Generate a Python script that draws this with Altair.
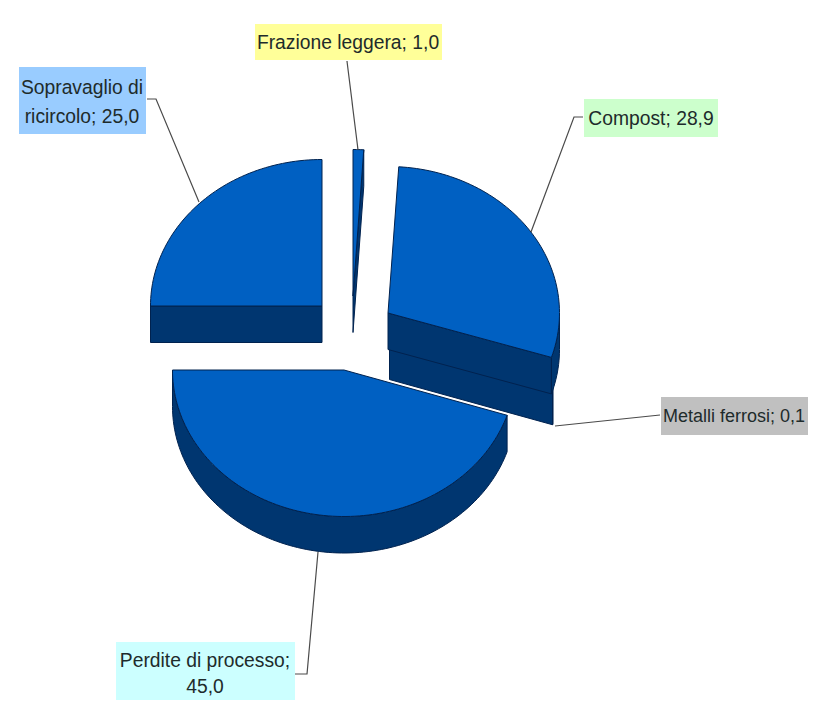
import math
import altair as alt
import pandas as pd

# Data
names = ["Frazione leggera", "Compost", "Metalli ferrosi", "Perdite di processo", "Sopravaglio di ricircolo"]
values = [1.0, 28.9, 0.1, 45.0, 25.0]
label_lines = [["Frazione leggera; 1,0"], ["Compost; 28,9"], ["Metalli ferrosi; 0,1"],
               ["Perdite di processo;", "45,0"], ["Sopravaglio di", "ricircolo; 25,0"]]
label_fill = ["#FFFF99", "#CCFFCC", "#C0C0C0", "#CCFFFF", "#99CCFF"]
label_size = [19.3, 19.3, 18, 19.3, 19.3]

# Layout (picture pixels)
centres = [(353, 296), (388, 313), (389.5, 343), (344, 370), (322, 306)]
RX, RY, DEPTH = 171.5, 146.5, 36.5
boxes = [(255, 442, 24, 60), (584, 718, 99, 137), (661, 808, 397, 435), (116, 295, 642, 700), (19, 146, 67, 134)]
text_pos = [[(348, 43)], [(651, 119)], [(734, 417)], [(205, 661), (205, 687)], [(82, 88), (82, 117)]]
leaders = [[(347, 61), (358, 150)], [(583, 117), (574, 117), (531, 232)], [(660, 415), (555, 426)],
           [(294, 674), (307, 674), (318, 552)], [(147, 99), (156, 99), (199, 202)]]
TOP, SIDE, EDGE = "#0060C2", "#003670", "#00224F"

X = alt.X("x:Q", scale=alt.Scale(domain=[8, 808], range=[0, 800], nice=False, zero=False), axis=None)
Y = alt.Y("y:Q", scale=alt.Scale(domain=[8, 700], range=[0, 692], nice=False, zero=False), axis=None)


def pt(c, deg, drop=0.0):
    t = math.radians(deg)
    return (c[0] + RX * math.sin(t), c[1] - RY * math.cos(t) + drop)


def arc(c, a, b, drop=0.0):
    n = max(2, int(abs(b - a) / 1.5) + 2)
    return [pt(c, a + (b - a) * i / (n - 1), drop) for i in range(n)]


def poly(points, fill):
    pts = list(points) + [points[0]]
    df = pd.DataFrame({"x": [p[0] for p in pts], "y": [p[1] for p in pts], "i": range(len(pts))})
    return alt.Chart(df).mark_line(filled=True, fill=fill, stroke=EDGE, strokeWidth=1).encode(
        x=X, y=Y, order="i:Q")


def face(c, deg):
    e = pt(c, deg)
    return poly([c, e, (e[0], e[1] + DEPTH), (c[0], c[1] + DEPTH)], SIDE)


# slice angles clockwise from 12 o'clock
angles, acc = [], 0.0
for v in values:
    angles.append((acc * 3.6, (acc + v) * 3.6))
    acc += v

layers = []
for idx in [4, 0, 2, 1, 3]:
    a, b = angles[idx]
    c = centres[idx]
    if math.sin(math.radians(a)) < -1e-6:
        layers.append(face(c, a))
    if math.sin(math.radians(b)) > 1e-6:
        layers.append(face(c, b))
    lo, hi = max(a, 90), min(b, 270)
    if hi > lo:
        layers.append(poly(arc(c, lo, hi) + arc(c, hi, lo, DEPTH), SIDE))
    layers.append(poly([c] + arc(c, a, b), TOP))

for seq in leaders:
    df = pd.DataFrame({"x": [p[0] for p in seq], "y": [p[1] for p in seq], "i": range(len(seq))})
    layers.append(alt.Chart(df).mark_line(color="#4A4A4A", strokeWidth=1.2).encode(x=X, y=Y, order="i:Q"))

box_df = pd.DataFrame({"x": [b[0] for b in boxes], "x2": [b[1] for b in boxes],
                       "y": [b[2] for b in boxes], "y2": [b[3] for b in boxes], "fill": label_fill})
layers.append(alt.Chart(box_df).mark_rect().encode(
    x=X, x2="x2:Q", y=Y, y2="y2:Q", color=alt.Color("fill:N", scale=None, legend=None)))

txt = pd.DataFrame([{"x": p[0], "y": p[1], "t": s, "size": fs}
                    for lines, pos, fs in zip(label_lines, text_pos, label_size) for s, p in zip(lines, pos)])
layers.append(alt.Chart(txt).mark_text(font="Liberation Sans", color="#1E2B2B",
                                       align="center", baseline="middle").encode(
    x=X, y=Y, text="t:N", size=alt.Size("size:Q", scale=None, legend=None)))

chart = alt.layer(*layers).properties(
    width=800, height=692, background="#FFFFFF", padding=0,
    autosize=alt.AutoSizeParams(type="none")
).configure_view(stroke=None)

chart.save("out.html", embed_options={"renderer": "svg", "actions": False})
